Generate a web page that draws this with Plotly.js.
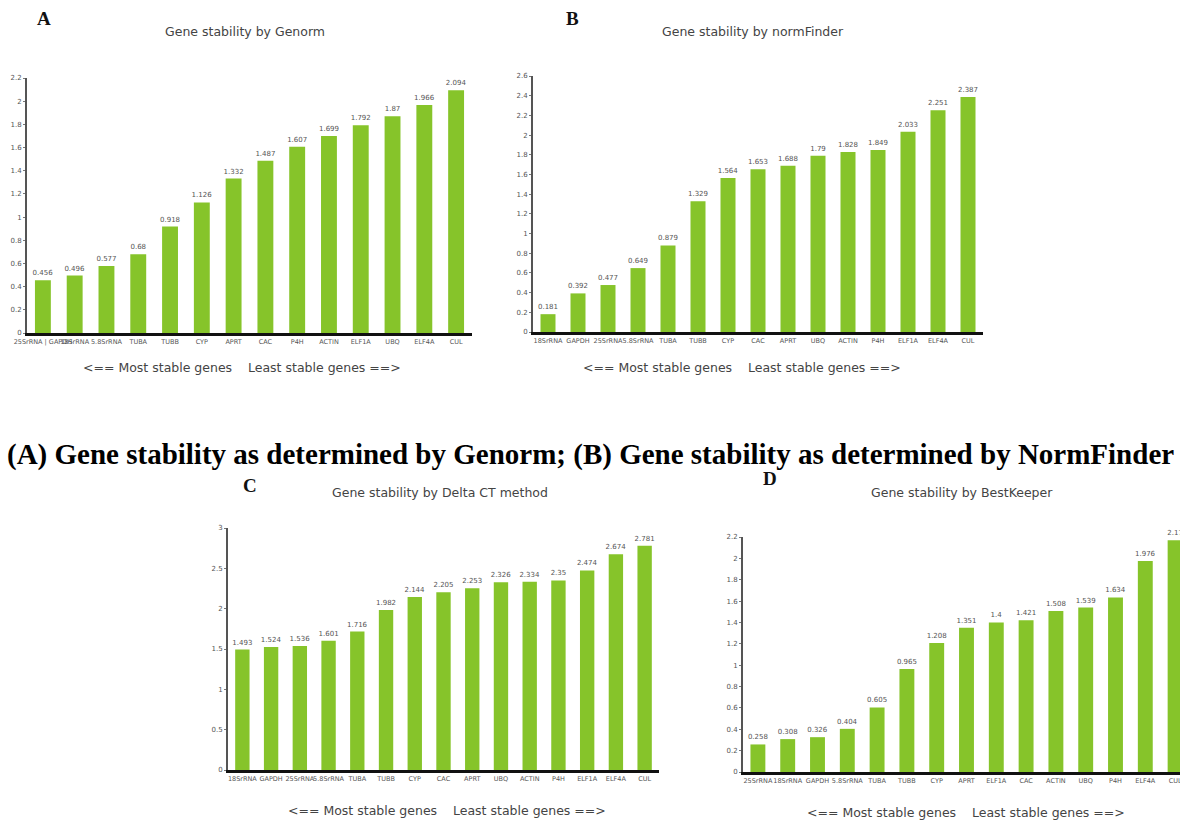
<!DOCTYPE html>
<html>
<head>
<meta charset="utf-8">
<script src="https://cdn.plot.ly/plotly-3.0.1.min.js"></script>
<style>
  html, body { margin: 0; padding: 0; background: #ffffff; }
  #chart { width: 1180px; height: 823px; }
</style>
</head>
<body>
<div id="chart"></div>
<script>
// ---- Data ----
const genormGenes = ["25SrRNA | GAPDH", "18SrRNA", "5.8SrRNA", "TUBA", "TUBB", "CYP", "APRT", "CAC", "P4H", "ACTIN", "ELF1A", "UBQ", "ELF4A", "CUL"];
const genormValues = [0.456, 0.496, 0.577, 0.68, 0.918, 1.126, 1.332, 1.487, 1.607, 1.699, 1.792, 1.87, 1.966, 2.094];

const normfinderGenes = ["18SrRNA", "GAPDH", "25SrRNA", "5.8SrRNA", "TUBA", "TUBB", "CYP", "CAC", "APRT", "UBQ", "ACTIN", "P4H", "ELF1A", "ELF4A", "CUL"];
const normfinderValues = [0.181, 0.392, 0.477, 0.649, 0.879, 1.329, 1.564, 1.653, 1.688, 1.79, 1.828, 1.849, 2.033, 2.251, 2.387];

const deltaCtGenes = ["18SrRNA", "GAPDH", "25SrRNA", "5.8SrRNA", "TUBA", "TUBB", "CYP", "CAC", "APRT", "UBQ", "ACTIN", "P4H", "ELF1A", "ELF4A", "CUL"];
const deltaCtValues = [1.493, 1.524, 1.536, 1.601, 1.716, 1.982, 2.144, 2.205, 2.253, 2.326, 2.334, 2.35, 2.474, 2.674, 2.781];

const bestkeeperGenes = ["25SrRNA", "18SrRNA", "GAPDH", "5.8SrRNA", "TUBA", "TUBB", "CYP", "APRT", "ELF1A", "CAC", "ACTIN", "UBQ", "P4H", "ELF4A", "CUL"];
const bestkeeperValues = [0.258, 0.308, 0.326, 0.404, 0.605, 0.965, 1.208, 1.351, 1.4, 1.421, 1.508, 1.539, 1.634, 1.976, 2.17];

const panelTitles = ["Gene stability by Genorm", "Gene stability by normFinder", "Gene stability by Delta CT method", "Gene stability by BestKeeper"];
const panelLetters = ["A", "B", "C", "D"];
const axisCaption = "<== Most stable genes\u00a0\u00a0\u00a0 Least stable genes ==>";
const figureCaption = "(A) Gene stability as determined by Genorm; (B) Gene stability as determined by NormFinder";

// ---- Layout helpers (pixel -> paper) ----
const W = 1180, H = 823;
const px = v => v / W;
const py = v => 1 - v / H;

const green = "#86c42a";
const sans = "DejaVu Sans, Verdana, sans-serif";
const serif = "Liberation Serif, Times New Roman, serif";

function barTrace(genes, values, xa, ya) {
  return {
    type: "bar",
    x: genes,
    y: values,
    xaxis: xa,
    yaxis: ya,
    marker: { color: green },
    text: values.map(String),
    textposition: "outside",
    textfont: { family: sans, size: 7, color: "#555" },
    cliponaxis: false,
    hoverinfo: "x+y",
    showlegend: false
  };
}

function xAxis(domainPx, anchor, n, rangeEnd) {
  return {
    domain: [px(domainPx[0]), Math.min(1, px(domainPx[1]))],
    anchor: anchor,
    type: "category",
    range: [-0.5, rangeEnd !== undefined ? rangeEnd : n - 0.5],
    showline: true, linecolor: "#111", linewidth: 3,
    ticks: "", showgrid: false, zeroline: false,
    tickfont: { family: sans, size: 6.5, color: "#555" },
    tickangle: 0,
    automargin: false,
    fixedrange: true
  };
}

function yAxis(domainPx, anchor, top, dtick) {
  return {
    domain: [py(domainPx[1]), py(domainPx[0])],
    anchor: anchor,
    range: [0, top],
    dtick: dtick,
    tick0: 0,
    showline: true, linecolor: "#555", linewidth: 2,
    ticks: "outside", ticklen: 2, tickcolor: "#777",
    showgrid: false, zeroline: false,
    tickfont: { family: sans, size: 7, color: "#555" },
    automargin: false,
    fixedrange: true
  };
}

const data = [
  barTrace(genormGenes, genormValues, "x", "y"),
  barTrace(normfinderGenes, normfinderValues, "x2", "y2"),
  barTrace(deltaCtGenes, deltaCtValues, "x3", "y3"),
  barTrace(bestkeeperGenes, bestkeeperValues, "x4", "y4")
];

function ann(text, xp, yp, size, opts) {
  return Object.assign({
    text: text, x: px(xp), y: py(yp), xref: "paper", yref: "paper",
    xanchor: "center", yanchor: "middle", showarrow: false,
    font: { family: sans, size: size, color: "#444" }
  }, opts || {});
}

const letterFont = { family: serif, size: 19, color: "#111", weight: "bold" };

const annotations = [
  ann(panelTitles[0], 245, 32, 12.5),
  ann(panelTitles[1], 753, 32, 12.5),
  ann(panelTitles[2], 440, 493, 12.5),
  ann(panelTitles[3], 962, 493, 12.5),
  ann(panelLetters[0], 44, 19, 19, { font: letterFont }),
  ann(panelLetters[1], 572, 19, 19, { font: letterFont }),
  ann(panelLetters[2], 250, 486, 19, { font: letterFont }),
  ann(panelLetters[3], 770, 478, 19, { font: letterFont }),
  ann(axisCaption, 242, 367, 12.5),
  ann(axisCaption, 742, 367, 12.5),
  ann(axisCaption, 447, 810, 12.5),
  ann(axisCaption, 966, 812, 12.5),
  ann("<b>" + figureCaption + "</b>", 590, 454, 29, { font: { family: serif, size: 29, color: "#000" } })
];

// D: spacing ~29.8 px, axis at 743, last bar partly beyond the right edge
const dSpacing = 29.8;
const dRangeEnd = -0.5 + (W - 743) / dSpacing;

const layout = {
  width: W, height: H,
  margin: { l: 0, r: 0, t: 0, b: 0 },
  paper_bgcolor: "#fff", plot_bgcolor: "rgba(0,0,0,0)",
  bargap: 0.5,
  uniformtext: { mode: false },
  xaxis: xAxis([27, 472], "y", genormGenes.length),
  yaxis: yAxis([78, 333], "x", 2.2, 0.2),
  xaxis2: xAxis([533, 983], "y2", normfinderGenes.length),
  yaxis2: yAxis([76, 332], "x2", 2.6, 0.2),
  xaxis3: xAxis([228, 659], "y3", deltaCtGenes.length),
  yaxis3: yAxis([528, 770], "x3", 3, 0.5),
  xaxis4: xAxis([743, 1180], "y4", bestkeeperGenes.length, dRangeEnd),
  yaxis4: yAxis([537, 772], "x4", 2.2, 0.2),
  annotations: annotations
};

data.forEach(t => { t.constraintext = "none"; });

Plotly.newPlot("chart", data, layout, { displayModeBar: false, staticPlot: true });
</script>
</body>
</html>
